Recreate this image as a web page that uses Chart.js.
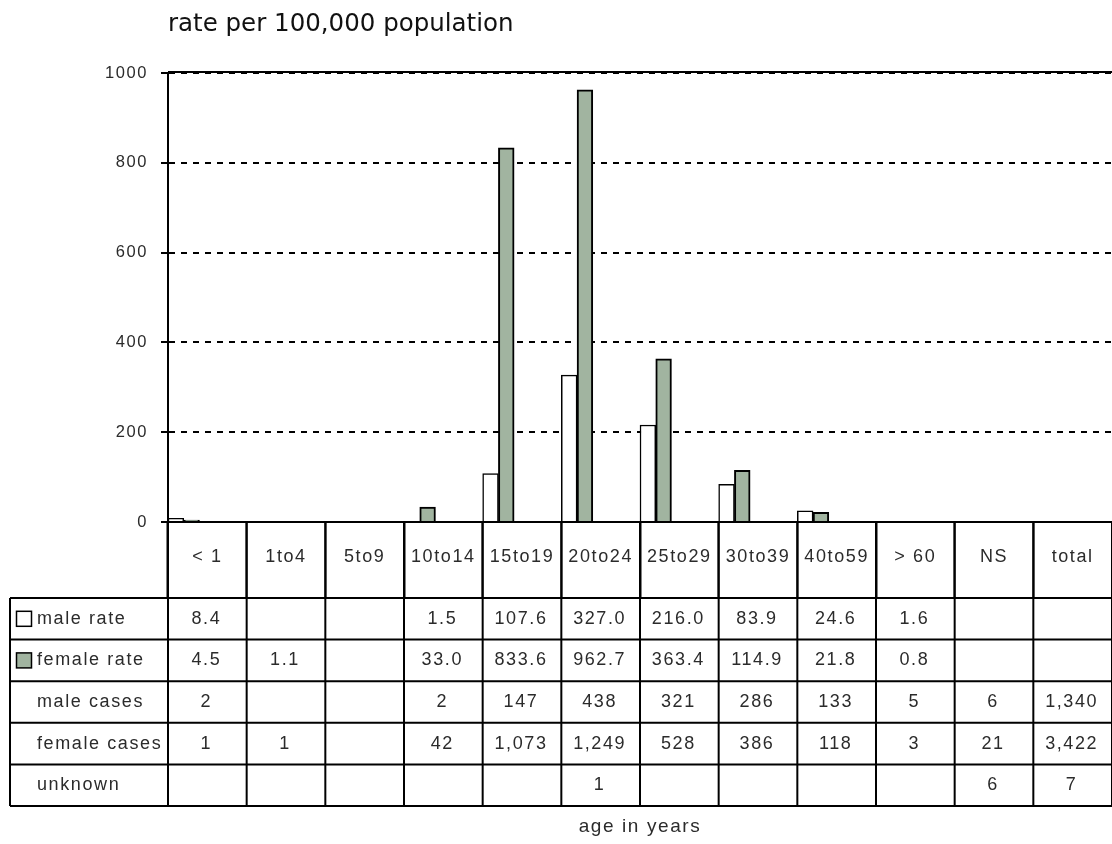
<!DOCTYPE html>
<html>
<head>
<meta charset="utf-8">
<script src="https://cdn.jsdelivr.net/npm/chart.js@4.4.1/dist/chart.umd.min.js"></script>
<style>
  html, body { margin: 0; padding: 0; background: #ffffff; }
  canvas { display: block; }
</style>
</head>
<body>
<canvas id="chart" width="1112" height="844"></canvas>
<script>
// Age groups along the x axis (the last two columns carry only case counts)
const ageGroups = ['< 1', '1to4', '5to9', '10to14', '15to19', '20to24', '25to29', '30to39', '40to59', '> 60', 'NS', 'total'];

// Rates per 100,000 population
const maleRate   = [8.4, null, null, 1.5, 107.6, 327.0, 216.0, 83.9, 24.6, 1.6, null, null];
const femaleRate = [4.5, 1.1, null, 33.0, 833.6, 962.7, 363.4, 114.9, 21.8, 0.8, null, null];

// Case counts
const maleCases    = [2, null, null, 2, 147, 438, 321, 286, 133, 5, 6, 1340];
const femaleCases  = [1, 1, null, 42, 1073, 1249, 528, 386, 118, 3, 21, 3422];
const unknownCases = [null, null, null, null, null, 1, null, null, null, null, 6, 7];

// Value axis ticks
const yTicks = [0, 200, 400, 600, 800, 1000];

const MALE_FILL = '#ffffff';
const FEMALE_FILL = '#a1b4a0';
const TEXT = '#2b2b2b';
const SANS = "'Liberation Sans', Arial, sans-serif";
const TRACKING = '1.6px';

const fmtRate = v => v.toFixed(1);
const fmtCount = v => v.toLocaleString('en-US');

// Spaced lettering for axis labels and the table, plain lettering for the title
const tracking = {
  id: 'tracking',
  beforeDraw(chart) { chart.ctx.letterSpacing = '0px'; },
  afterDatasetsDraw(chart) { chart.ctx.letterSpacing = TRACKING; },
  afterDraw(chart) { chart.ctx.letterSpacing = '0px'; }
};

// Data table under the plot: one column per age group, aligned to the x scale
const dataTable = {
  id: 'dataTable',
  afterDraw(chart) {
    const { ctx, chartArea: a } = chart;
    const n = ageGroups.length;
    const colW = (a.right - a.left) / n;
    const headTop = a.bottom;
    const bodyTop = a.bottom + 76;
    const rowH = 41.6;
    const tableLeft = 10;
    const rows = [
      { label: 'male rate', values: maleRate, fmt: fmtRate, key: MALE_FILL },
      { label: 'female rate', values: femaleRate, fmt: fmtRate, key: FEMALE_FILL },
      { label: 'male cases', values: maleCases, fmt: fmtCount },
      { label: 'female cases', values: femaleCases, fmt: fmtCount },
      { label: 'unknown', values: unknownCases, fmt: fmtCount }
    ];
    const bottom = bodyTop + rowH * rows.length;

    ctx.save();
    // plot frame top edge
    ctx.strokeStyle = '#000';
    ctx.lineWidth = 2;
    ctx.beginPath();
    ctx.moveTo(a.left, a.top - 1);
    ctx.lineTo(a.right, a.top - 1);
    ctx.stroke();

    // grid of the table
    ctx.beginPath();
    for (let r = 0; r <= rows.length; r++) {
      const y = bodyTop + r * rowH;
      ctx.moveTo(tableLeft, y);
      ctx.lineTo(a.right, y);
    }
    ctx.moveTo(tableLeft, bodyTop);
    ctx.lineTo(tableLeft, bottom);
    for (let i = 0; i <= n; i++) {
      const xx = a.left + i * colW;
      ctx.moveTo(xx, headTop);
      ctx.lineTo(xx, bottom);
    }
    ctx.stroke();

    // row labels, legend keys and cell values
    ctx.letterSpacing = TRACKING;
    ctx.font = `18px ${SANS}`;
    ctx.fillStyle = TEXT;
    ctx.textBaseline = 'middle';
    rows.forEach((row, r) => {
      const cy = bodyTop + r * rowH + rowH / 2;
      if (row.key) {
        ctx.fillStyle = row.key;
        ctx.fillRect(16.5, cy - 7.5, 15, 15);
        ctx.lineWidth = 1.5;
        ctx.strokeStyle = '#000';
        ctx.strokeRect(16.5, cy - 7.5, 15, 15);
        ctx.fillStyle = TEXT;
      }
      ctx.textAlign = 'left';
      ctx.fillText(row.label, 37, cy);
      ctx.textAlign = 'center';
      row.values.forEach((v, i) => {
        if (v === null || v === undefined) return;
        const cx = a.left + (i + 0.5) * colW - 1;
        ctx.fillText(row.fmt(v), cx, cy);
      });
    });
    ctx.restore();
  }
};

const barStyle = { barPercentage: 1, categoryPercentage: 1, borderColor: '#000' };

new Chart(document.getElementById('chart'), {
  type: 'bar',
  data: {
    labels: ageGroups,
    datasets: [
      { ...barStyle, label: 'male rate', data: maleRate, backgroundColor: MALE_FILL, borderWidth: 1.5 },
      { ...barStyle, label: 'female rate', data: femaleRate, backgroundColor: FEMALE_FILL, borderWidth: 2 },
      // empty slots keep each pair at the left edge of its column
      { ...barStyle, label: 'slot 3', data: [] },
      { ...barStyle, label: 'slot 4', data: [] },
      { ...barStyle, label: 'slot 5', data: [] }
    ]
  },
  options: {
    responsive: false,
    animation: false,
    devicePixelRatio: 1,
    layout: { padding: 0 },
    plugins: {
      legend: { display: false },
      tooltip: { enabled: false },
      title: {
        display: true,
        text: 'rate per 100,000 population',
        align: 'start',
        fullSize: false,
        color: '#111',
        font: { family: "'DejaVu Sans', sans-serif", size: 24.5, weight: 'normal' },
        padding: { top: 10, bottom: 33.6 }
      }
    },
    scales: {
      x: {
        offset: true,
        afterFit: s => { s.height = 322; },
        grid: {
          display: true, drawOnChartArea: false, drawTicks: true, offset: true,
          tickLength: 76, tickColor: '#000', tickWidth: 2, z: 1
        },
        border: { display: true, color: '#000', width: 2, z: 1 },
        ticks: {
          z: 1, padding: -52, autoSkip: false, maxRotation: 0, minRotation: 0,
          color: TEXT, font: { family: SANS, size: 18 }
        },
        title: {
          display: true, text: 'age in years', color: TEXT,
          font: { family: SANS, size: 19 }, padding: { top: 0, bottom: 6 }
        }
      },
      y: {
        min: 0,
        max: 1000,
        afterBuildTicks: s => { s.ticks = yTicks.map(v => ({ value: v })); },
        afterFit: s => { s.width = 168; },
        grid: {
          color: '#000', lineWidth: 2, drawTicks: true,
          tickLength: 7, tickColor: '#000', tickWidth: 2
        },
        border: { display: true, color: '#000', width: 2, dash: [6, 6] },
        ticks: {
          z: 1, padding: 13, color: TEXT, font: { family: SANS, size: 16.5 },
          callback: v => String(v)
        }
      }
    }
  },
  plugins: [tracking, dataTable]
});
</script>
</body>
</html>
